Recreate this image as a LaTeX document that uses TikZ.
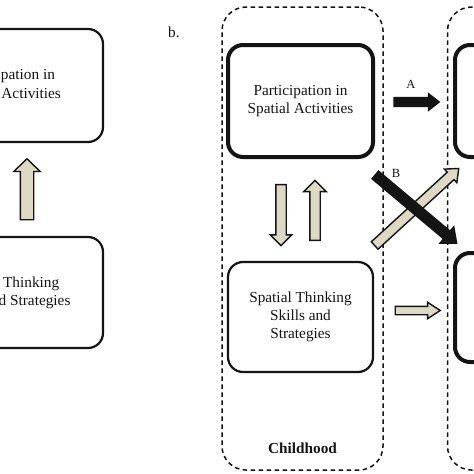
\documentclass[tikz,border=0pt]{standalone}
\usepackage{fontspec}
\setmainfont{Liberation Serif}
\usetikzlibrary{shapes.arrows}
\definecolor{beige}{RGB}{221,217,196}
\definecolor{ink}{RGB}{20,20,20}
\begin{document}
\begin{tikzpicture}[x=1pt,y=-1pt,
  txt/.style={font=\fontsize{15.3}{18.3}\selectfont, text=ink},
  box/.style={draw=ink, rounded corners=15pt, line width=2.2pt, align=center, inner sep=0pt, txt},
  thickbox/.style={box, line width=4pt},
  zone/.style={draw=ink, dashed, dash pattern=on 4.5pt off 3.5pt, rounded corners=24pt, line width=1.5pt, inner sep=0pt},
  barrow/.style={single arrow, draw=ink, line width=1.4pt, fill=beige, inner xsep=0pt, anchor=center},
  karrow/.style={single arrow, draw=none, fill=ink, inner xsep=0pt, anchor=center},
  lab/.style={font=\fontsize{12.5}{14}\selectfont, text=ink, inner sep=0pt}
]
\useasboundingbox (0,0) rectangle (474,474);
\clip (0,0) rectangle (474,474);
\fill[white] (0,0) rectangle (474,474);

% panel a (cropped)
\node[box, minimum width=190pt, minimum height=113pt] (a1) at (8,85.5) {Participation in\\Spatial Activities};
\node[box, minimum width=190pt, minimum height=111pt] (a2) at (8,292.5) {Spatial Thinking\\Skills and Strategies};
\node[barrow, rotate=90, minimum height=61pt, minimum width=25pt, inner ysep=6pt, single arrow head extend=6.5pt, single arrow tip angle=92] (aup) at (27,192.5) {};

% panel b
\node[txt, anchor=base west, inner sep=0pt] (blab) at (168,37) {b.};
\node[zone, minimum width=161pt, minimum height=463pt] (child) at (302.5,238.5) {};
\node[zone, minimum width=161pt, minimum height=463pt] (adult) at (528,238.5) {};
\node[font=\fontsize{15.3}{18}\selectfont\bfseries, text=ink, anchor=base] (childlab) at (302.5,453) {Childhood};

\node[thickbox, minimum width=145pt, minimum height=112pt] (p1) at (300.5,101) {Participation in\\Spatial Activities};
\node[box, minimum width=145pt, minimum height=110pt] (s1) at (300.5,317) {Spatial Thinking\\Skills and\\Strategies};
\node[thickbox, minimum width=150pt, minimum height=112pt] (p2) at (530,101) {};
\node[thickbox, minimum width=150pt, minimum height=109pt] (s2) at (530,307.5) {};

\node[barrow, rotate=-90, minimum height=61pt, minimum width=20pt, inner ysep=4.5pt, single arrow head extend=5.5pt, single arrow tip angle=90] (down) at (281,212.5) {};
\node[barrow, rotate=90, minimum height=60pt, minimum width=21pt, inner ysep=4.5pt, single arrow head extend=6pt, single arrow tip angle=90] (up) at (315,213) {};

% cross-lagged arrows
\node[barrow, rotate=42.5, minimum height=114pt, minimum width=17pt, inner ysep=4.3pt, single arrow head extend=4.2pt, single arrow tip angle=80] (diagup) at (414.5,209) {};
\node[karrow, rotate=-40, minimum height=108pt, minimum width=24pt, inner ysep=5.5pt, single arrow head extend=6.5pt, single arrow tip angle=80] (diagdown) at (413.5,207) {};

\node[karrow, minimum height=47pt, minimum width=19pt, inner ysep=5pt, single arrow head extend=4.5pt, single arrow tip angle=76] (arrA) at (413.5,102) {};
\node[barrow, minimum height=45pt, minimum width=15pt, inner ysep=3.5pt, single arrow head extend=4pt, single arrow tip angle=66] (arrS) at (414.5,310.5) {};

\node[lab] (labA) at (411,84) {A};
\node[lab] (labB) at (396,173) {B};
\end{tikzpicture}
\end{document}
